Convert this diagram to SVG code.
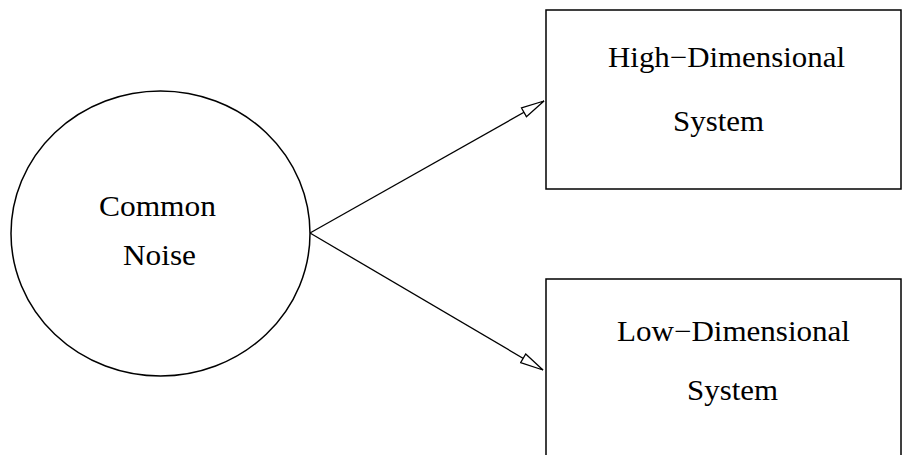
<svg xmlns="http://www.w3.org/2000/svg" width="902" height="455" viewBox="0 0 902 455">
<style>
.shape{fill:#fff;stroke:#000;stroke-width:1.5}
.lbl{font-family:"Liberation Serif","Times New Roman",serif;font-size:29px;fill:#000}
.edge{stroke:#000;stroke-width:1.3;fill:none}
</style>
<defs>
<marker id="arr" markerUnits="userSpaceOnUse" markerWidth="26" markerHeight="14" refX="24" refY="6" orient="auto" viewBox="0 0 26 12">
<path d="M1,1 L24,6 L1,11 Z" fill="#fff" stroke="#000" stroke-width="1.3"/>
</marker>
</defs>
<rect width="902" height="455" fill="#fff"/>
<g id="edges">
<line class="edge" x1="310" y1="233" x2="544" y2="101" marker-end="url(#arr)"/>
<line class="edge" x1="310" y1="233" x2="543" y2="370" marker-end="url(#arr)"/>
</g>
<g id="common-noise">
<ellipse class="shape" cx="160.5" cy="233.5" rx="149.5" ry="142.5"/>
<text class="lbl" x="99" y="216" textLength="117" lengthAdjust="spacingAndGlyphs">Common</text>
<text class="lbl" x="123" y="265" textLength="73" lengthAdjust="spacingAndGlyphs">Noise</text>
</g>
<g id="high-dim">
<rect class="shape" x="546" y="10" width="355" height="179"/>
<text class="lbl" x="608" y="67" textLength="237" lengthAdjust="spacingAndGlyphs">High−Dimensional</text>
<text class="lbl" x="673" y="131" textLength="91" lengthAdjust="spacingAndGlyphs">System</text>
</g>
<g id="low-dim">
<rect class="shape" x="546" y="279" width="355" height="190"/>
<text class="lbl" x="617" y="341" textLength="233" lengthAdjust="spacingAndGlyphs">Low−Dimensional</text>
<text class="lbl" x="687" y="400" textLength="91" lengthAdjust="spacingAndGlyphs">System</text>
</g>
</svg>
